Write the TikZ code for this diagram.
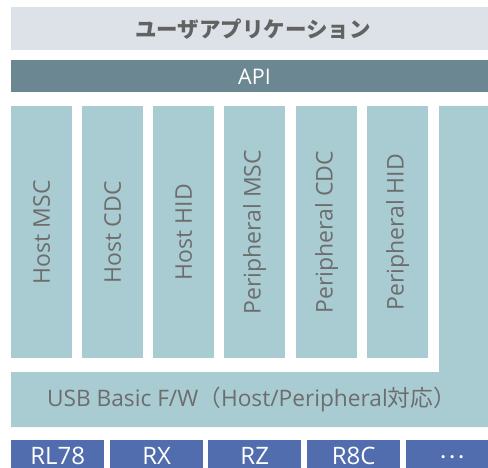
\documentclass[tikz,border=0pt]{standalone}
\usepackage{fontspec}
\setmainfont{Open Sans}
\newfontfamily\jp{Noto Sans CJK JP}
\definecolor{topgray}{HTML}{DCE2E7}
\definecolor{apiteal}{HTML}{6B8792}
\definecolor{colteal}{HTML}{A9CCD2}
\definecolor{mcublue}{HTML}{516DAE}
\definecolor{txtgray}{HTML}{6D6D6D}
\begin{document}
\begin{tikzpicture}[x=1pt,y=-1pt,
  blk/.style={rectangle,inner sep=0pt,anchor=north west},
  colbox/.style={blk,fill=colteal,minimum width=61pt,minimum height=252pt},
  coltext/.style={rotate=90,text=txtgray,font=\fontsize{23}{23}\selectfont},
  mcubox/.style={blk,fill=mcublue,minimum width=93pt,minimum height=34pt},
  mcutext/.style={text=white,inner sep=0pt,anchor=base,text depth=0pt,font=\fontsize{24}{24}\selectfont}]
\useasboundingbox (0,0) rectangle (488,468);
\node[blk,fill=topgray,minimum width=477pt,minimum height=43pt] (app) at (11,7) {};
\node[text=txtgray!90!black,font=\jp\bfseries\fontsize{21.5}{21.5}\selectfont] (apptext) at (253,29) {ユーザアプリケーション};
\node[blk,fill=apiteal,minimum width=477pt,minimum height=32pt] (api) at (11,60) {};
\node[text=white,font=\fontsize{21.5}{21.5}\selectfont] (apitext) at (254.5,76.5) {API};
\foreach \n/\x/\t in {hmsc/11/Host MSC,hcdc/82/Host CDC,hhid/153/Host HID,pmsc/224/Peripheral MSC,pcdc/296/Peripheral CDC,phid/367/Peripheral HID}{
  \node[colbox] (\n) at (\x,106) {};
  \node[coltext] (\n t) at (\n.center) {\t};
}
\fill[colteal] (439,106) -- (488,106) -- (488,427) -- (11,427) -- (11,372) -- (439,372) -- cycle;
\coordinate (usbc) at (251.5,400);
\node[text=txtgray,font=\fontsize{22.7}{22.7}\selectfont] (usb) at (usbc) {USB Basic F/W{\jp （}Host/Peripheral{\jp 対応）}};
\node[mcubox] (rl) at (11,440) {};
\node[mcubox] (rx) at (110,440) {};
\node[mcubox] (rz) at (208,440) {};
\node[mcubox] (r8c) at (307,440) {};
\node[mcubox] (etc) at (406,440) {};
\node[mcutext] (rlt) at ([yshift=-7.5pt]rl.center) {RL78};
\node[mcutext] (rxt) at ([yshift=-7.5pt]rx.center) {RX};
\node[mcutext] (rzt) at ([yshift=-7.5pt]rz.center) {RZ};
\node[mcutext] (r8ct) at ([yshift=-7.5pt]r8c.center) {R8C};
\node[mcutext,font=\jp\fontsize{24}{24}\selectfont] (etct) at ([yshift=-1.5pt]etc.center) {…};
\end{tikzpicture}
\end{document}
